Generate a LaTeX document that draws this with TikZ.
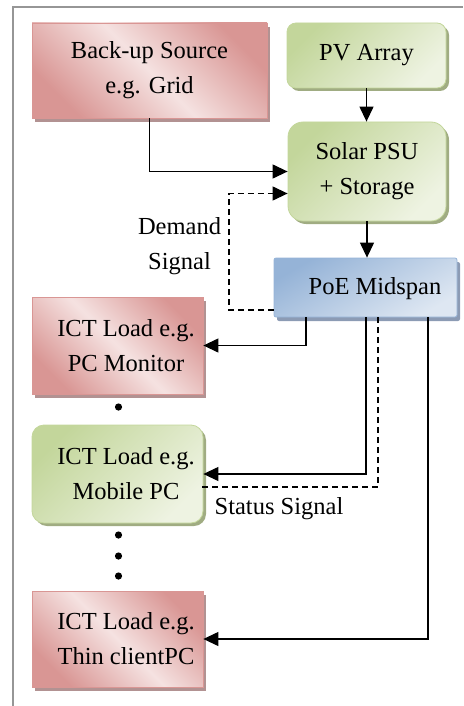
\documentclass[tikz,border=0pt]{standalone}
\usepackage{fontspec}
\setmainfont{Liberation Serif}
\usetikzlibrary{arrows.meta,shadows}

\definecolor{redDark}{RGB}{217,150,148}
\definecolor{redLight}{RGB}{245,226,225}
\definecolor{redShadow}{RGB}{178,146,146}
\definecolor{greenDark}{RGB}{195,214,155}
\definecolor{greenLight}{RGB}{238,243,226}
\definecolor{greenShadow}{RGB}{160,172,130}
\definecolor{blueDark}{RGB}{149,179,215}
\definecolor{blueLight}{RGB}{222,231,242}
\definecolor{blueShadow}{RGB}{140,155,180}
\definecolor{frameGray}{RGB}{150,150,150}

\tikzset{
  redbox/.style={draw=redDark, line width=0.8pt, inner sep=0pt,
    top color=redDark, bottom color=redDark, middle color=redLight, shading angle=-45,
    drop shadow={shadow xshift=3pt, shadow yshift=-4pt, fill=redShadow, opacity=1}},
  greenbox/.style={draw=greenDark, line width=0.8pt, inner sep=0pt, rounded corners=#1,
    top color=greenDark, bottom color=greenLight, shading angle=45,
    drop shadow={shadow xshift=3pt, shadow yshift=-3pt, fill=greenShadow, opacity=1}},
  bluebox/.style={draw=blueDark, line width=0.8pt, inner sep=0pt, rounded corners=2pt,
    top color=blueDark, bottom color=blueLight, shading angle=30,
    drop shadow={shadow xshift=3pt, shadow yshift=-4pt, fill=blueShadow, opacity=1}},
  txt/.style={align=center, inner sep=0pt},
  tip/.style={-{Triangle[length=15pt,width=14pt]}},
  flow/.style={line width=1.2pt, tip},
  sig/.style={line width=1.2pt, dash pattern=on 6pt off 4pt}
}

\begin{document}
\begin{tikzpicture}[x=1pt,y=-1pt,font=\fontsize{24.5}{35}\selectfont]
\useasboundingbox (0,0) rectangle (463,706);

% frame
\draw [frameGray, line width=1.3pt] (13,706) -- (13,7) -- (463,7);

% sources
\node [redbox, minimum width=235pt, minimum height=95pt, txt] (backup) at (149.5,70.5) {Back-up Source\\e.g. Grid};
\node [greenbox=9pt, minimum width=159pt, minimum height=65pt, txt] (pv) at (366.5,55.5) {PV Array};
\node [greenbox=15pt, minimum width=158pt, minimum height=99pt, txt] (psu) at (367,171.5) {Solar PSU\\+ Storage};

% midspan
\node [bluebox, minimum width=183pt, minimum height=59pt] (poe) at (365.5,287.5) {};
\node [txt] (poetext) at (375,289) {PoE Midspan};

% loads
\node [redbox, minimum width=171pt, minimum height=97pt] (monitor) at (117.5,345.5) {};
\node [txt] (monitortext) at (126,346) {ICT Load e.g.\\PC Monitor};
\node [greenbox=12pt, minimum width=171pt, minimum height=98pt] (mobile) at (117.5,474) {};
\node [txt] (mobiletext) at (126,474) {ICT Load e.g.\\Mobile PC};
\node [redbox, minimum width=171pt, minimum height=96pt] (thin) at (117.5,639) {};
\node [txt] (thintext) at (126,639) {ICT Load e.g.\\Thin clientPC};

% signal labels
\node [txt] (demand) at (179.5,246) {Demand\\Signal};
\node [txt] (status) at (279,509) {Status Signal};

% power flow
\draw [flow] (pv.south) -- (psu.north -| pv.south);
\draw [flow] (backup.south) |- (psu.west);
\draw [flow] (psu.south) -- (psu.south |- poe.north);
\draw [flow] ([xshift=-59.5pt]poe.south) |- (monitor.east);
\draw [flow] ([xshift=0.5pt]poe.south) |- (mobile.east);
\draw [flow] ([xshift=62.5pt]poe.south) |- (thin.east);

% signals
\coordinate (dcorner) at (229,310);
\draw [sig, tip] ([yshift=-22.5pt]poe.west) -- (dcorner) |- ([yshift=-22pt]psu.west);
\draw [sig] ([xshift=12.5pt]poe.south) |- ([yshift=-13pt,xshift=-3pt]mobile.east);

% more loads
\foreach \y in {407,535,556,576}
  \fill (118.5,\y) circle (3.6pt);

\end{tikzpicture}
\end{document}
